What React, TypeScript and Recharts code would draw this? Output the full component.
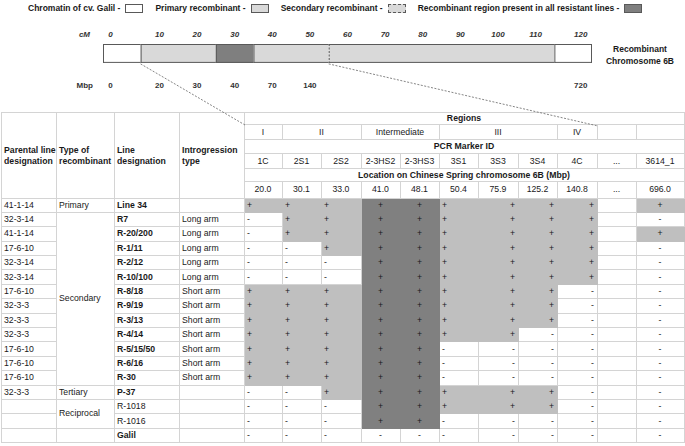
import React from "react";
import { BarChart, Bar, XAxis, YAxis, Label } from "recharts";

// ---- chromosome 6B schematic (segment lengths, in diagram units) ----
const chromosomeName = "Recombinant Chromosome 6B";
const segmentKeys = ["galilShort", "primaryShort", "core", "primaryLong", "secondary", "galilLong"];
const segmentKinds = ["galil", "primary", "core", "primary", "secondary", "galil"];
const segmentLengths = [10, 20, 10, 20, 60, 10];

const cmTickPositions = [2, 15, 25, 35, 45, 55, 65, 75, 85, 95, 105, 115, 127];
const cmTickLabels = ["0", "10", "20", "30", "40", "50", "60", "70", "80", "90", "100", "110", "120"];
const mbpTickPositions = [2, 15, 25, 35, 45, 55, 127];
const mbpTickLabels = ["0", "20", "30", "40", "70", "140", "720"];

const legendLabels = [
  "Chromatin of cv. Galil",
  "Primary recombinant",
  "Secondary recombinant",
  "Recombinant region present in all resistant lines",
];
const legendKinds = ["galil", "primary", "secondary", "core"];

// ---- marker table ----
const regionNames = ["I", "II", "Intermediate", "III", "IV", "", ""];
const regionSpans = [1, 2, 2, 3, 1, 1, 1];
const markerIds = ["1C", "2S1", "2S2", "2-3HS2", "2-3HS3", "3S1", "3S3", "3S4", "4C", "...", "3614_1"];
const markerPositions = ["20.0", "30.1", "33.0", "41.0", "48.1", "50.4", "75.9", "125.2", "140.8", "...", "696.0"];

const headerLabels = ["Parental line designation", "Type of recombinant", "Line designation", "Introgression type"];
const parentalLines = [
  "41-1-14", "32-3-14", "41-1-14", "17-6-10", "32-3-14", "32-3-14", "17-6-10", "32-3-3", "32-3-3",
  "32-3-3", "17-6-10", "17-6-10", "17-6-10", "32-3-3", "", "", "",
];
const recombinantTypes = ["Primary", "Secondary", "Tertiary", "Reciprocal", ""];
const recombinantTypeRows = [1, 12, 1, 2, 1];
const lineNames = [
  "Line 34", "R7", "R-20/200", "R-1/11", "R-2/12", "R-10/100", "R-8/18", "R-9/19", "R-3/13",
  "R-4/14", "R-5/15/50", "R-6/16", "R-30", "P-37", "R-1018", "R-1016", "Galil",
];
const introgressionTypes = [
  "", "Long arm", "Long arm", "Long arm", "Long arm", "Long arm", "Short arm", "Short arm", "Short arm",
  "Short arm", "Short arm", "Short arm", "Short arm", "", "", "", "",
];
// one character per marker column: + present, - absent, blank = not tested
const markerScores = [
  "+++++++++ +",
  "-++++++++ -",
  "-++++++++ +",
  "--+++++++ -",
  "---++++++ -",
  "---++++++ -",
  "++++++++- -",
  "++++++++- -",
  "++++++++- -",
  "+++++++-- -",
  "+++++---- -",
  "+++++---- -",
  "+++++---- -",
  "--++++++- -",
  "---+++++- -",
  "---++---- -",
  "--------- -",
];

// ---- layout / style ----
const FONT = '"Liberation Sans", Arial, sans-serif';
const TEXT = "#1a1a1a";
const GRID = "#d4d4d4";
const OUTLINE = "#595959";
const segmentFills: Record<string, string> = {
  galil: "#ffffff",
  primary: "#d9d9d9",
  secondary: "#d9d9d9",
  core: "#7f7f7f",
};
const cellLight = "#bfbfbf";
const cellDark = "#808080";

const TABLE_LEFT = 1;
const TABLE_TOP = 112;
const colWidths = [56, 58, 65, 65, 38, 39, 40, 39, 39, 39, 40, 39, 40, 39, 48];
const headRowHeights = [13, 15, 14, 15, 13, 16.5];
const bodyRowHeight = 14.4;
const scoreAlign = [
  "flex-start", "flex-start", "flex-start", "center", "center", "flex-start",
  "flex-end", "flex-end", "flex-end", "center", "center",
];

const sum = (a: number[]) => a.reduce((s, v) => s + v, 0);
const LEAD_COLS = 4;
// where the zoom-in connectors land on the table header
const anchorLeft = { x: TABLE_LEFT + sum(colWidths.slice(0, LEAD_COLS)), y: TABLE_TOP + headRowHeights[0] };
const anchorRight = {
  x: TABLE_LEFT + sum(colWidths.slice(0, LEAD_COLS + sum(regionSpans.slice(0, 5)))),
  y: TABLE_TOP + headRowHeights[0] + 1,
};
const ZOOM_FROM = 1;
const ZOOM_TO = 4;

const chromosomeRow = [
  Object.fromEntries([["name", chromosomeName], ...segmentKeys.map((k, i) => [k, segmentLengths[i]])]),
];

const segmentShape = (index: number) => (props: any) => {
  const { x, y, width, height } = props;
  const kind = segmentKinds[index];
  const target = index === ZOOM_FROM ? anchorLeft : index === ZOOM_TO ? anchorRight : null;
  return (
    <g>
      <rect x={x} y={y} width={width} height={height} fill={segmentFills[kind]} />
      <line x1={x} x2={x + width} y1={y + 0.5} y2={y + 0.5} stroke={OUTLINE} />
      <line x1={x} x2={x + width} y1={y + height - 0.5} y2={y + height - 0.5} stroke={OUTLINE} />
      <line
        x1={x + 0.5}
        x2={x + 0.5}
        y1={y}
        y2={y + height}
        stroke={OUTLINE}
        strokeDasharray={kind === "secondary" ? "2 1.5" : undefined}
      />
      {index === segmentKeys.length - 1 && (
        <line x1={x + width - 0.5} x2={x + width - 0.5} y1={y} y2={y + height} stroke={OUTLINE} />
      )}
      {target && (
        <line
          x1={x}
          y1={y + height + 1}
          x2={target.x}
          y2={target.y}
          stroke="#666"
          strokeWidth={0.8}
          strokeDasharray="2 1.5"
        />
      )}
    </g>
  );
};

const ChromosomeTick = ({ x, y, payload }: any) => {
  const words = String(payload.value).split(" ");
  return (
    <text textAnchor="middle" fontSize={8.5} fontWeight="bold" fill={TEXT} fontFamily={FONT}>
      <tspan x={x + 40} y={y - 1.5}>{words[0]}</tspan>
      <tspan x={x + 40} y={y + 10.5}>{words.slice(1).join(" ")}</tspan>
    </text>
  );
};

const ChromosomeChart = () => (
  <BarChart
    width={685}
    height={130}
    data={chromosomeRow}
    layout="vertical"
    barCategoryGap={0}
    margin={{ top: 13, right: 0, bottom: 36, left: 103 }}
  >
    <XAxis
      xAxisId="cm"
      type="number"
      orientation="top"
      domain={[0, 130]}
      ticks={cmTickPositions}
      interval={0}
      height={30}
      tickSize={0}
      tickMargin={6}
      axisLine={false}
      tickLine={false}
      tickFormatter={(v: number) => cmTickLabels[cmTickPositions.indexOf(v)]}
      tick={{ fontSize: 8, fontStyle: "italic", fontWeight: "bold", fill: "#333", fontFamily: FONT }}
    >
      <Label
        content={(p: any) => (
          <text
            x={p.viewBox.x - 13}
            y={p.viewBox.y + p.viewBox.height - 6}
            textAnchor="end"
            fontSize={8}
            fontStyle="italic"
            fontWeight="bold"
            fill="#333"
            fontFamily={FONT}
          >
            cM
          </text>
        )}
      />
    </XAxis>
    {/* Mbp axis has no series of its own, so its domain is pinned */}
    <XAxis
      xAxisId="mbp"
      type="number"
      orientation="bottom"
      domain={[0, 130]}
      allowDataOverflow
      ticks={mbpTickPositions}
      interval={0}
      height={30}
      tickSize={0}
      tickMargin={18}
      axisLine={false}
      tickLine={false}
      tickFormatter={(v: number) => mbpTickLabels[mbpTickPositions.indexOf(v)]}
      tick={{ fontSize: 8, fontWeight: "bold", fill: "#333", fontFamily: FONT }}
    >
      <Label
        content={(p: any) => (
          <text
            x={p.viewBox.x - 10}
            y={p.viewBox.y + 24}
            textAnchor="end"
            fontSize={8}
            fontWeight="bold"
            fill="#333"
            fontFamily={FONT}
          >
            Mbp
          </text>
        )}
      />
    </XAxis>
    <YAxis
      type="category"
      dataKey="name"
      orientation="right"
      width={93}
      tickSize={0}
      tickMargin={8}
      axisLine={false}
      tickLine={false}
      tick={<ChromosomeTick />}
    />
    {segmentKeys.map((key, i) => (
      <Bar
        key={key}
        xAxisId="cm"
        dataKey={key}
        stackId="chr"
        barSize={21}
        fill={segmentFills[segmentKinds[i]]}
        shape={segmentShape(i)}
        isAnimationActive={false}
      />
    ))}
  </BarChart>
);

const ChromosomeLegend = () => (
  <div
    style={{
      position: "absolute",
      left: 28,
      top: 3,
      display: "flex",
      alignItems: "center",
      fontSize: 8.5,
      fontWeight: "bold",
      color: TEXT,
      whiteSpace: "nowrap",
    }}
  >
    {legendLabels.map((label, i) => (
      <span key={label} style={{ display: "flex", alignItems: "center", marginRight: 12 }}>
        {label} -
        <span
          style={{
            display: "inline-block",
            width: 18,
            height: 9,
            marginLeft: 5,
            boxSizing: "border-box",
            background: segmentFills[legendKinds[i]],
            border: `1px ${legendKinds[i] === "secondary" ? "dashed" : "solid"} ${OUTLINE}`,
          }}
        />
      </span>
    ))}
  </div>
);

type CellOpts = {
  col: number;
  row: number;
  colSpan?: number;
  rowSpan?: number;
  align?: string;
  bold?: boolean;
  fill?: string;
  pad?: string;
};

const cellStyle = ({ col, row, colSpan = 1, rowSpan = 1, align = "flex-start", bold, fill, pad }: CellOpts) => {
  const line = fill ? `1px solid ${fill}` : `1px solid ${GRID}`;
  return {
    gridColumn: `${col + 1} / span ${colSpan}`,
    gridRow: `${row + 1} / span ${rowSpan}`,
    display: "flex",
    alignItems: "center",
    justifyContent: align,
    boxSizing: "border-box" as const,
    padding: pad || "0 3px 0 2px",
    background: fill || "#fff",
    borderRight: line,
    borderBottom: line,
    borderTop: row === 0 ? `1px solid ${GRID}` : undefined,
    borderLeft: col === 0 ? `1px solid ${GRID}` : undefined,
    fontWeight: bold ? ("bold" as const) : ("normal" as const),
    lineHeight: "11px",
    overflow: "visible",
    whiteSpace: "normal" as const,
  };
};

const ScoreTable = () => {
  const nHead = headRowHeights.length;
  const colRegion = regionNames.flatMap((r, i) => Array(regionSpans[i]).fill(r));
  const cells: React.ReactNode[] = [];

  headerLabels.forEach((label, c) => {
    cells.push(
      <div key={`h${c}`} style={cellStyle({ col: c, row: 0, rowSpan: nHead, bold: true, pad: "0 0 0 2px" })}>
        <span style={{ paddingTop: 2 }}>{label}</span>
      </div>
    );
  });
  const spanAll = markerIds.length;
  cells.push(
    <div key="regions" style={cellStyle({ col: LEAD_COLS, row: 0, colSpan: spanAll, align: "center", bold: true })}>
      Regions
    </div>
  );
  let c0 = LEAD_COLS;
  regionNames.forEach((r, i) => {
    cells.push(
      <div key={`r${i}`} style={cellStyle({ col: c0, row: 1, colSpan: regionSpans[i], align: "center" })}>
        {r}
      </div>
    );
    c0 += regionSpans[i];
  });
  cells.push(
    <div key="pcr" style={cellStyle({ col: LEAD_COLS, row: 2, colSpan: spanAll, align: "center", bold: true })}>
      PCR Marker ID
    </div>
  );
  markerIds.forEach((m, i) => {
    cells.push(
      <div key={`m${i}`} style={cellStyle({ col: LEAD_COLS + i, row: 3, align: "center" })}>
        {m}
      </div>
    );
  });
  cells.push(
    <div key="loc" style={cellStyle({ col: LEAD_COLS, row: 4, colSpan: spanAll, align: "center", bold: true })}>
      Location on Chinese Spring chromosome 6B (Mbp)
    </div>
  );
  markerPositions.forEach((p, i) => {
    cells.push(
      <div key={`p${i}`} style={cellStyle({ col: LEAD_COLS + i, row: 5, align: "center" })}>
        {p}
      </div>
    );
  });

  let groupStart = 0;
  recombinantTypes.forEach((t, g) => {
    cells.push(
      <div key={`t${g}`} style={cellStyle({ col: 1, row: nHead + groupStart, rowSpan: recombinantTypeRows[g] })}>
        {t}
      </div>
    );
    for (let r = groupStart; r < groupStart + recombinantTypeRows[g]; r++) {
      const row = nHead + r;
      cells.push(
        <div key={`pl${r}`} style={cellStyle({ col: 0, row })}>
          {parentalLines[r]}
        </div>,
        <div key={`ln${r}`} style={cellStyle({ col: 2, row, bold: t !== "Reciprocal" })}>
          {lineNames[r]}
        </div>,
        <div key={`it${r}`} style={cellStyle({ col: 3, row })}>
          {introgressionTypes[r]}
        </div>
      );
      markerScores[r].split("").forEach((s, i) => {
        const fill = s === "+" ? (colRegion[i] === "Intermediate" ? cellDark : cellLight) : undefined;
        cells.push(
          <div key={`s${r}-${i}`} style={cellStyle({ col: LEAD_COLS + i, row, align: scoreAlign[i], fill })}>
            {s.trim()}
          </div>
        );
      });
    }
    groupStart += recombinantTypeRows[g];
  });

  return (
    <div
      style={{
        position: "absolute",
        left: TABLE_LEFT,
        top: TABLE_TOP,
        display: "grid",
        gridTemplateColumns: colWidths.map((w) => `${w}px`).join(" "),
        gridTemplateRows: [...headRowHeights, ...lineNames.map(() => bodyRowHeight)]
          .map((h) => `${h}px`)
          .join(" "),
        fontSize: 8.7,
        color: TEXT,
      }}
    >
      {cells}
    </div>
  );
};

export default function App() {
  return (
    <div
      style={{
        position: "absolute",
        left: 0,
        top: 0,
        width: 685,
        height: 446,
        overflow: "hidden",
        background: "#fff",
        fontFamily: FONT,
      }}
    >
      <ChromosomeLegend />
      <ScoreTable />
      <div style={{ position: "absolute", left: 0, top: 0, zIndex: 2, pointerEvents: "none" }}>
        <ChromosomeChart />
      </div>
    </div>
  );
}
